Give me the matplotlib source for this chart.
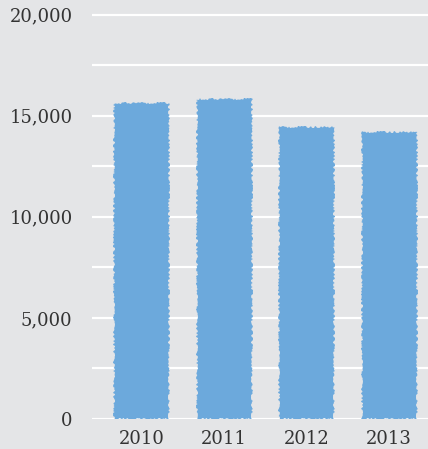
import numpy as np
import matplotlib
matplotlib.use("Agg")
import matplotlib.pyplot as plt

years = ["2010", "2011", "2012", "2013"]
values = [15620, 15820, 14430, 14180]
ticks = [0, 5000, 10000, 15000, 20000]
tick_labels = ["0", "5,000", "10,000", "15,000", "20,000"]

bg = "#e4e5e7"
fig = plt.figure(figsize=(4.28, 4.49), dpi=100, facecolor=bg)
ax = fig.add_axes([92 / 428, 30 / 449, 336 / 428, 419 / 449], facecolor=bg)

x = np.arange(len(years))
bars = ax.bar(x, values, width=0.667, color="#6ca9dc", zorder=3)
for b in bars:
    b.set_sketch_params(1.0, 4, 12)  # ragged brush-like edges

# white gridlines every 2500
for g in np.arange(0, 20001, 2500):
    ax.axhline(g, color="white", lw=1.6, zorder=1)

ax.set_xlim(-0.6, 3.47)
ax.set_ylim(0, 20720)
ax.set_yticks(ticks)
ax.set_yticklabels(tick_labels)
ax.set_xticks(x)
ax.set_xticklabels(years)
ax.tick_params(length=0, labelsize=13, colors="#333333")
ax.tick_params(axis="y", pad=14)
ax.tick_params(axis="x", pad=8)
for lab in ax.get_xticklabels() + ax.get_yticklabels():
    lab.set_family("DejaVu Serif")
for s in ax.spines.values():
    s.set_visible(False)

fig.savefig("out.png", dpi=100, facecolor=bg)
